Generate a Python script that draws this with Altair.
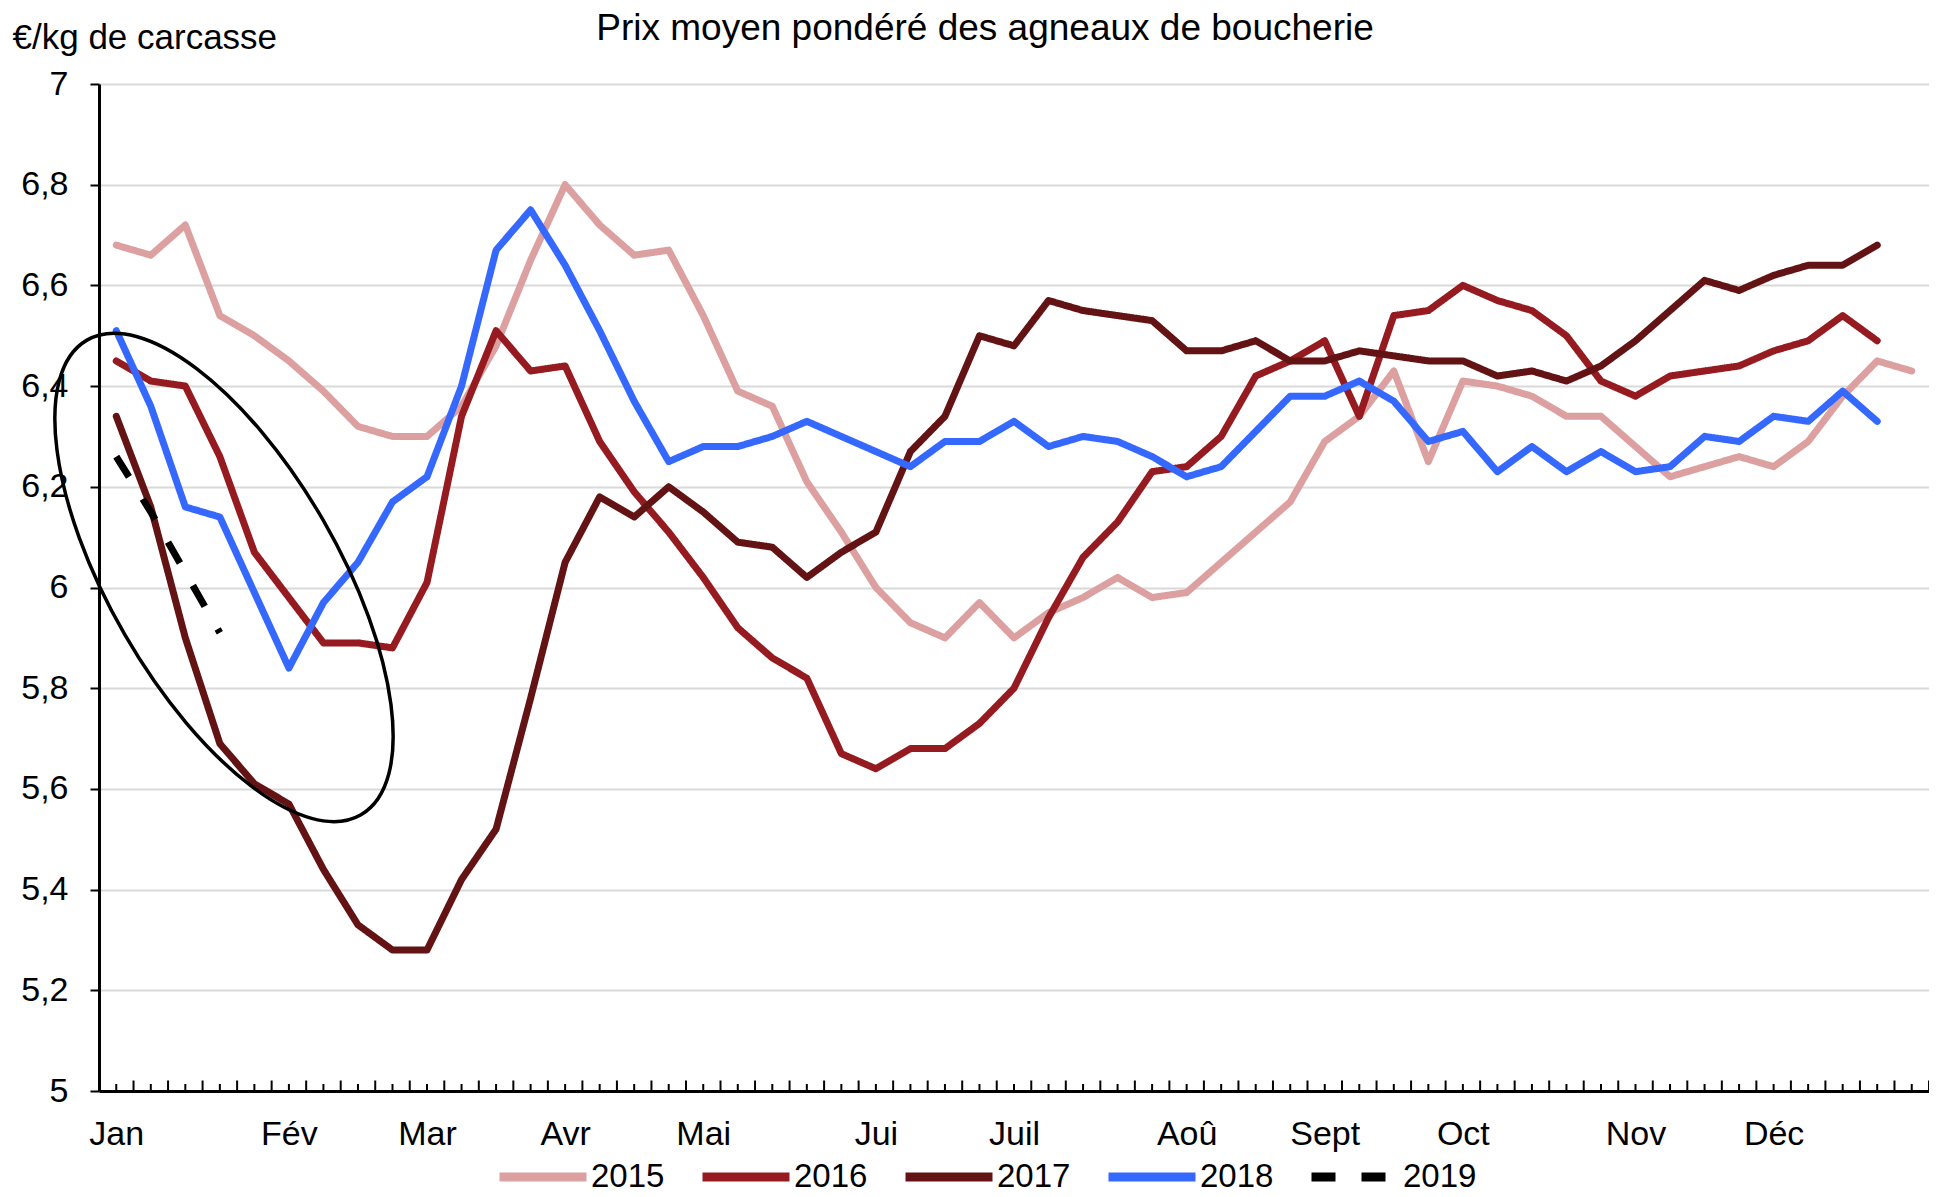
import altair as alt
import pandas as pd

# ---------------- data ----------------
years = ["2015", "2016", "2017", "2018", "2019"]
colors = ["#DCA0A0", "#961B21", "#641315", "#3568FF", "#000000"]
dashes = [[1, 0], [1, 0], [1, 0], [1, 0], [24, 26]]

p2015 = [6.68, 6.66, 6.72, 6.54, 6.50, 6.45, 6.39, 6.32, 6.30, 6.30,
         6.36, 6.48, 6.65, 6.80, 6.72, 6.66, 6.67, 6.54, 6.39, 6.36,
         6.21, 6.11, 6.00, 5.93, 5.90, 5.97, 5.90, 5.95, 5.98, 6.02,
         5.98, 5.99, 6.05, 6.11, 6.17, 6.29, 6.34, 6.43, 6.25, 6.41,
         6.40, 6.38, 6.34, 6.34, 6.28, 6.22, 6.24, 6.26, 6.24, 6.29,
         6.38, 6.45, 6.43]
p2016 = [6.45, 6.41, 6.40, 6.26, 6.07, 5.98, 5.89, 5.89, 5.88, 6.01,
         6.34, 6.51, 6.43, 6.44, 6.29, 6.19, 6.11, 6.02, 5.92, 5.86,
         5.82, 5.67, 5.64, 5.68, 5.68, 5.73, 5.80, 5.94, 6.06, 6.13,
         6.23, 6.24, 6.30, 6.42, 6.45, 6.49, 6.34, 6.54, 6.55, 6.60,
         6.57, 6.55, 6.50, 6.41, 6.38, 6.42, 6.43, 6.44, 6.47, 6.49,
         6.54, 6.49]
p2017 = [6.34, 6.16, 5.90, 5.69, 5.61, 5.57, 5.44, 5.33, 5.28, 5.28,
         5.42, 5.52, 5.78, 6.05, 6.18, 6.14, 6.20, 6.15, 6.09, 6.08,
         6.02, 6.07, 6.11, 6.27, 6.34, 6.50, 6.48, 6.57, 6.55, 6.54,
         6.53, 6.47, 6.47, 6.49, 6.45, 6.45, 6.47, 6.46, 6.45, 6.45,
         6.42, 6.43, 6.41, 6.44, 6.49, 6.55, 6.61, 6.59, 6.62, 6.64,
         6.64, 6.68]
p2018 = [6.51, 6.36, 6.16, 6.14, 5.99, 5.84, 5.97, 6.05, 6.17, 6.22,
         6.40, 6.67, 6.75, 6.64, 6.51, 6.37, 6.25, 6.28, 6.28, 6.30,
         6.33, 6.30, 6.27, 6.24, 6.29, 6.29, 6.33, 6.28, 6.30, 6.29,
         6.26, 6.22, 6.24, 6.31, 6.38, 6.38, 6.41, 6.37, 6.29, 6.31,
         6.23, 6.28, 6.23, 6.27, 6.23, 6.24, 6.30, 6.29, 6.34, 6.33,
         6.39, 6.33]
p2019 = [6.26, 6.15, 6.03, 5.91]

month_labels = ["Jan", "Fév", "Mar", "Avr", "Mai", "Jui", "Juil",
                "Aoû", "Sept", "Oct", "Nov", "Déc"]
month_weeks = [1, 6, 10, 14, 18, 23, 27, 32, 36, 40, 45, 49]
y_ticks = [5, 5.2, 5.4, 5.6, 5.8, 6, 6.2, 6.4, 6.6, 6.8, 7]
n_weeks = 53

title_text = ["Prix moyen pondéré des agneaux de boucherie"]
y_title = "€/kg de carcasse"

# annotation ellipse (centre in data units)
ellipse_week = [4.12]
ellipse_price = [6.02]
ELLIPSE_PATH = ("M 0.4567 0.791 A 0.9133 0.3817 60 1 1 -0.4567 -0.791 "
                "A 0.9133 0.3817 60 1 1 0.4567 0.791 Z")

# ---------------- tables ----------------
rows = []
for yr, vals in zip(years, [p2015, p2016, p2017, p2018, p2019]):
    for i, v in enumerate(vals, start=1):
        rows.append({"annee": yr, "semaine": i, "prix": v})
df = pd.DataFrame(rows)
df_solid = df[df["annee"] != "2019"]
df_dash = df[df["annee"] == "2019"]

bounds_df = pd.DataFrame({"t": [i + 0.5 for i in range(n_weeks + 1)]})
centers_df = pd.DataFrame({"t": list(range(1, n_weeks + 1))})
ell_df = pd.DataFrame({"semaine": ellipse_week, "prix": ellipse_price})
title_df = pd.DataFrame({"titre": title_text})

W, H = 1830, 1007
FONT = "Liberation Sans"

x_scale = alt.Scale(domain=[0.5, n_weeks + 0.5], nice=False, zero=False)
y_scale = alt.Scale(domain=[5, 7], nice=False, zero=False)
color_scale = alt.Scale(domain=years, range=colors)
dash_scale = alt.Scale(domain=years, range=dashes)

label_expr = ""
for w, m in zip(month_weeks, month_labels):
    label_expr += f"datum.value == {w} ? '{m}' : "
label_expr += "''"

x_axis = alt.Axis(values=month_weeks, labelExpr=label_expr, title=None,
                  grid=False, ticks=False, domain=True, domainColor="black",
                  domainWidth=3, labelFontSize=34, labelPadding=26,
                  labelColor="black", labelFont=FONT, labelAngle=0)
y_axis = alt.Axis(values=y_ticks,
                  labelExpr="replace(format(datum.value, '~g'), '.', ',')",
                  title=y_title, titleAngle=0, titleAlign="left",
                  titleBaseline="middle", titleX=-87, titleY=-47,
                  titleFontSize=35, titleFontWeight="normal", titleColor="black",
                  titleFont=FONT, grid=True, gridColor="#d9d9d9", gridWidth=2,
                  domain=True, domainColor="black", domainWidth=3,
                  ticks=True, tickColor="black", tickWidth=2, tickSize=9,
                  labelFontSize=34, labelPadding=22, labelColor="black",
                  labelFont=FONT)

leg = alt.Legend(title=None, orient="none", legendX=396, legendY=1045,
                 direction="horizontal", columns=5, symbolType="stroke",
                 symbolSize=7569, symbolStrokeWidth=9, labelFontSize=33,
                 labelFont=FONT, labelColor="black", labelOffset=0,
                 columnPadding=19, labelLimit=0)


def series_layer(data, cap):
    return alt.Chart(data).mark_line(strokeWidth=7, strokeCap=cap,
                                     strokeJoin="round").encode(
        x=alt.X("semaine:Q", scale=x_scale, axis=x_axis),
        y=alt.Y("prix:Q", scale=y_scale, axis=y_axis),
        color=alt.Color("annee:N", scale=color_scale, legend=leg),
        strokeDash=alt.StrokeDash("annee:N", scale=dash_scale, legend=leg),
        order=alt.Order("semaine:Q"),
    )


lines_solid = series_layer(df_solid, "round")
lines_dash = series_layer(df_dash, "butt")

tall_ticks = alt.Chart(bounds_df).mark_rule(color="black", strokeWidth=2).encode(
    x=alt.X("t:Q", scale=x_scale, title=None),
    y=alt.value(H), y2=alt.value(H - 10.5),
)
short_ticks = alt.Chart(centers_df).mark_rule(color="black", strokeWidth=2).encode(
    x=alt.X("t:Q", scale=x_scale, title=None),
    y=alt.value(H), y2=alt.value(H - 7),
)

ellipse = alt.Chart(ell_df).mark_point(shape=ELLIPSE_PATH, size=360000,
                                       filled=False, color="black",
                                       strokeWidth=3.5, opacity=1).encode(
    x=alt.X("semaine:Q", scale=x_scale, title=None),
    y=alt.Y("prix:Q", scale=y_scale, title=y_title),
)

title = alt.Chart(title_df).mark_text(font=FONT, fontSize=37, color="black",
                                      align="center",
                                      baseline="alphabetic").encode(
    text="titre:N", x=alt.value(886), y=alt.value(-44),
)

chart = alt.layer(tall_ticks, short_ticks, lines_solid, lines_dash, ellipse,
                  title).properties(
    width=W, height=H,
    padding={"left": 91, "top": 76, "right": 0, "bottom": 102},
    autosize=alt.AutoSizeParams(type="none"),
).configure_view(stroke=None)

chart.save("out.html", embed_options={"renderer": "svg", "actions": False})
